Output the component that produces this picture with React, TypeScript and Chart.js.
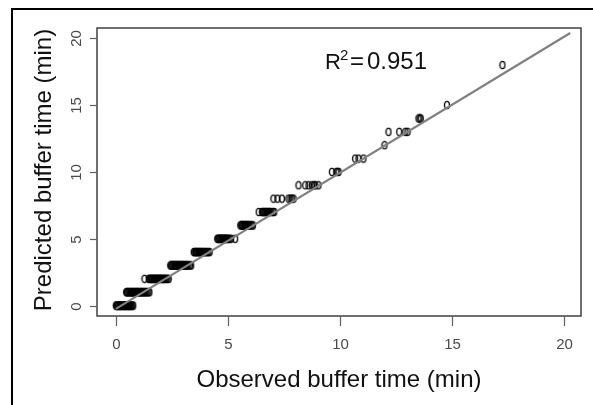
import React, { useEffect, useRef } from "react";
import { Chart, registerables } from "chart.js";

Chart.register(...registerables);

// Tick values shown on both axes
const tickValues = [0, 5, 10, 15, 20];

// Predicted buffer time levels (min) and the observed values (min) at each level
const predictedLevels = [0, 1, 2, 3, 4, 5, 6, 7, 8, 9, 10, 11, 12, 13, 14, 15, 18];

const obsPred0 = [0.0, 0.03, 0.05, 0.08, 0.1, 0.13, 0.16, 0.19, 0.22, 0.25, 0.28, 0.31, 0.34, 0.37, 0.4, 0.43, 0.46, 0.49, 0.52, 0.55, 0.58, 0.61, 0.64, 0.67, 0.7, 0.74, 0.78];
const obsPred1 = [0.46, 0.5, 0.53, 0.57, 0.6, 0.64, 0.67, 0.71, 0.74, 0.78, 0.81, 0.85, 0.88, 0.92, 0.95, 0.99, 1.02, 1.06, 1.09, 1.13, 1.16, 1.2, 1.24, 1.28, 1.32, 1.36, 1.41, 1.46, 1.5];
const obsPred2 = [1.28, 1.47, 1.5, 1.54, 1.57, 1.61, 1.64, 1.68, 1.71, 1.75, 1.78, 1.82, 1.85, 1.89, 1.92, 1.96, 1.99, 2.03, 2.06, 2.1, 2.14, 2.18, 2.22, 2.26, 2.31, 2.36];
const obsPred3 = [2.43, 2.47, 2.5, 2.54, 2.57, 2.61, 2.64, 2.68, 2.71, 2.75, 2.78, 2.82, 2.85, 2.89, 2.92, 2.96, 3.0, 3.04, 3.08, 3.12, 3.16, 3.2, 3.25, 3.31, 3.37];
const obsPred4 = [3.48, 3.51, 3.55, 3.58, 3.62, 3.65, 3.69, 3.72, 3.76, 3.79, 3.83, 3.87, 3.91, 3.95, 3.99, 4.04, 4.09, 4.14, 4.19];
const obsPred5 = [4.53, 4.57, 4.6, 4.64, 4.67, 4.71, 4.74, 4.78, 4.81, 4.85, 4.88, 4.92, 4.95, 4.99, 5.03, 5.07, 5.15, 5.33];
const obsPred6 = [5.56, 5.6, 5.63, 5.67, 5.7, 5.74, 5.77, 5.81, 5.85, 5.89, 5.93, 5.97, 6.02, 6.07, 6.13];
const obsPred7 = [6.38, 6.52, 6.56, 6.6, 6.64, 6.68, 6.72, 6.76, 6.8, 6.85, 6.9, 6.95, 7.02, 7.08];
const obsPred8 = [7.04, 7.22, 7.42, 7.71, 7.8, 7.86, 7.94];
const obsPred9 = [8.16, 8.46, 8.61, 8.76, 8.85, 8.91, 9.05];
const obsPred10 = [9.65, 9.85, 9.9, 9.95];
const obsPred11 = [10.69, 10.84, 11.06];
const obsPred12 = [12.0];
const obsPred13 = [12.18, 12.66, 12.93, 13.03];
const obsPred14 = [13.52, 13.57, 13.62];
const obsPred15 = [14.79];
const obsPred18 = [17.27];

const observedGroups = [
  obsPred0, obsPred1, obsPred2, obsPred3, obsPred4, obsPred5, obsPred6, obsPred7, obsPred8,
  obsPred9, obsPred10, obsPred11, obsPred12, obsPred13, obsPred14, obsPred15, obsPred18,
];

// Fitted line end points
const fitX = [0, 20.3];
const fitY = [-0.25, 20.4];

const rSquaredText = "0.951";
const xTitle = "Observed buffer time (min)";
const yTitle = "Predicted buffer time (min)";

export default function App() {
  const ref = useRef<HTMLCanvasElement>(null);

  useEffect(() => {
    if (!ref.current) return;

    const ell = document.createElement("canvas");
    ell.width = 8;
    ell.height = 10;
    const ec = ell.getContext("2d")!;
    ec.strokeStyle = "#000";
    ec.lineWidth = 1.3;
    ec.beginPath();
    ec.ellipse(4, 5, 2.5, 3.6, 0, 0, Math.PI * 2);
    ec.stroke();

    const points: { x: number; y: number }[] = [];
    predictedLevels.forEach((p, i) => {
      observedGroups[i].forEach((o) => points.push({ x: o, y: p }));
    });

    const decor = {
      id: "rdecor",
      afterDraw(chart: any) {
        const ctx = chart.ctx as CanvasRenderingContext2D;
        const a = chart.chartArea;
        const xs = chart.scales.x;
        const ys = chart.scales.y;
        ctx.save();
        // box
        ctx.strokeStyle = "#404040";
        ctx.lineWidth = 1.5;
        ctx.strokeRect(a.left, a.top, a.right - a.left, a.bottom - a.top);

        // ticks
        ctx.strokeStyle = "#606060";
        ctx.lineWidth = 1.2;
        ctx.fillStyle = "#4a4a4a";
        ctx.font = '15px "Liberation Sans Narrow", "Liberation Sans", Arial, sans-serif';
        tickValues.forEach((v) => {
          const px = Math.round(xs.getPixelForValue(v)) + 0.5;
          ctx.beginPath();
          ctx.moveTo(px, a.bottom);
          ctx.lineTo(px, a.bottom + 10);
          ctx.stroke();
          ctx.textAlign = "center";
          ctx.textBaseline = "middle";
          ctx.fillText(String(v), px, 345);

          const py = Math.round(ys.getPixelForValue(v)) + 0.5;
          ctx.beginPath();
          ctx.moveTo(a.left - 7, py);
          ctx.lineTo(a.left, py);
          ctx.stroke();
          ctx.save();
          ctx.translate(77, py);
          ctx.rotate(-Math.PI / 2);
          ctx.fillText(String(v), 0, 0);
          ctx.restore();
        });

        // titles
        ctx.fillStyle = "#111";
        ctx.font = '24px "Liberation Sans", Arial, sans-serif';
        ctx.textAlign = "center";
        ctx.textBaseline = "alphabetic";
        ctx.fillText(xTitle, (a.left + a.right) / 2, 387);
        ctx.save();
        ctx.translate(51, 170);
        ctx.rotate(-Math.PI / 2);
        ctx.fillText(yTitle, 0, 0);
        ctx.restore();

        // R^2 annotation
        ctx.textAlign = "left";
        ctx.font = '22px "Liberation Sans", Arial, sans-serif';
        ctx.fillText("R", 325, 69);
        ctx.font = '15px "Liberation Sans", Arial, sans-serif';
        ctx.fillText("2", 340, 60);
        ctx.font = '24px "Liberation Sans", Arial, sans-serif';
        ctx.fillText("=", 350, 69);
        ctx.fillText(rSquaredText, 367, 69);
        ctx.restore();
      },
    };

    const chart = new Chart(ref.current, {
      type: "scatter",
      data: {
        datasets: [
          {
            type: "line",
            data: fitX.map((x, i) => ({ x, y: fitY[i] })),
            borderColor: "#808080",
            borderWidth: 2.2,
            pointRadius: 0,
            fill: false,
          } as any,
          {
            data: points,
            pointStyle: ell as any,
            backgroundColor: "transparent",
            borderColor: "#000",
            showLine: false,
          },
        ],
      },
      options: {
        animation: false,
        responsive: false,
        events: [],
        layout: { padding: { left: 97, top: 28, right: 12, bottom: 89 } },
        plugins: { legend: { display: false }, tooltip: { enabled: false } },
        scales: {
          x: { type: "linear", min: -0.84, max: 20.78, display: false },
          y: { type: "linear", min: -0.78, max: 20.77, display: false },
        },
      },
      plugins: [decor],
    });
    return () => chart.destroy();
  }, []);

  return (
    <div style={{ position: "fixed", left: 0, top: 0, width: 593, height: 405, background: "#fff" }}>
      <canvas ref={ref} width={593} height={405} style={{ display: "block" }} />
      <div style={{ position: "absolute", left: 11, top: 8, width: 582, height: 2, background: "#000" }} />
      <div style={{ position: "absolute", left: 11, top: 8, width: 2, height: 397, background: "#000" }} />
    </div>
  );
}
